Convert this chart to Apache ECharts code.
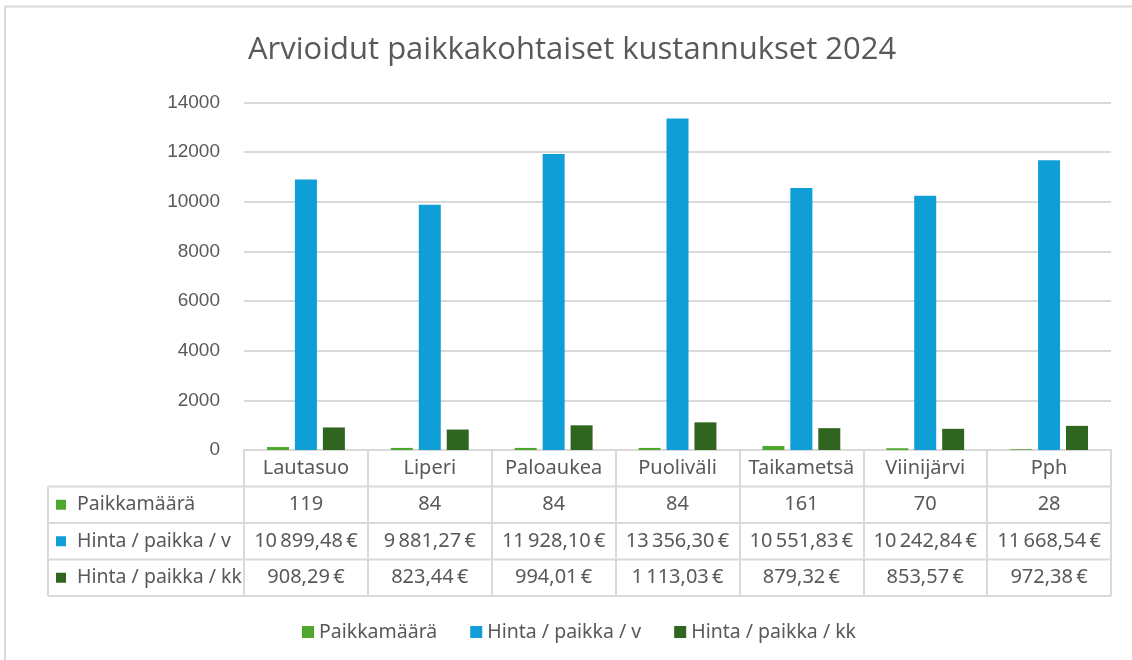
<!DOCTYPE html>
<html>
<head>
<meta charset="utf-8">
<script src="https://cdn.jsdelivr.net/npm/echarts@6/dist/echarts.min.js"></script>
<style>
html,body{margin:0;padding:0;background:#fff;}
#main{width:1132px;height:660px;}
</style>
</head>
<body>
<div id="main"></div>
<script>
// ---- data ----
var categories = ['Lautasuo', 'Liperi', 'Paloaukea', 'Puoliväli', 'Taikametsä', 'Viinijärvi', 'Pph'];
var seriesNames = ['Paikkamäärä', 'Hinta / paikka / v', 'Hinta / paikka / kk'];
var paikkamaara = [119, 84, 84, 84, 161, 70, 28];
var hintaVuosi = [10899.48, 9881.27, 11928.10, 13356.30, 10551.83, 10242.84, 11668.54];
var hintaKk = [908.29, 823.44, 994.01, 1113.03, 879.32, 853.57, 972.38];
var yTicks = [0, 2000, 4000, 6000, 8000, 10000, 12000, 14000];

// ---- styling / layout ----
var colors = ['#4ea72e', '#0f9ed5', '#2f651f'];
var TXT = '#595959';
var LINE = '#d9d9d9';
var W = 1132, H = 660;
var GRID_LEFT = 244, GRID_RIGHT = 21, GRID_TOP = 102.5, AXIS_Y = 450;
var ROW_H = 36.5;
var TABLE_LEFT = 48;
var TABLE_FONT = '"Noto Sans", sans-serif';
var TABLE_SIZE = 20;

function fmtEur(v) {
  var parts = v.toFixed(2).split('.');
  var intPart = parts[0].replace(/\B(?=(\d{3})+(?!\d))/g, '\u202F');
  return intPart + ',' + parts[1] + '\u202F€';
}
var rows = [
  paikkamaara.map(function (v) { return String(v); }),
  hintaVuosi.map(fmtEur),
  hintaKk.map(fmtEur)
];

var chart = echarts.init(document.getElementById('main'), null, {renderer: 'canvas'});

var tableRight = W - GRID_RIGHT;
var graphics = [
  {type: 'line', shape: {x1: 5, y1: 6.5, x2: W, y2: 6.5}, style: {stroke: LINE, lineWidth: 2}, silent: true},
  {type: 'line', shape: {x1: 5, y1: 6.5, x2: 5, y2: H}, style: {stroke: LINE, lineWidth: 2}, silent: true},
  {type: 'line', shape: {x1: TABLE_LEFT, y1: AXIS_Y + ROW_H, x2: TABLE_LEFT, y2: AXIS_Y + 4 * ROW_H}, style: {stroke: LINE, lineWidth: 2}, silent: true}
];
for (var r = 1; r <= 4; r++) {
  var yy = AXIS_Y + r * ROW_H;
  graphics.push({type: 'line', shape: {x1: TABLE_LEFT, y1: yy, x2: tableRight, y2: yy}, style: {stroke: LINE, lineWidth: 2}, silent: true});
}
seriesNames.forEach(function (name, i) {
  var cy = AXIS_Y + (i + 1.5) * ROW_H;
  graphics.push({type: 'rect', shape: {x: 56, y: cy - 5, width: 10, height: 10}, style: {fill: colors[i]}, silent: true});
  graphics.push({type: 'text', x: 77, y: cy, style: {text: name, fill: TXT, font: '19.5px ' + TABLE_FONT, textVerticalAlign: 'middle', verticalAlign: 'middle'}, silent: true});
});

var extraAxes = rows.map(function (labels, i) {
  return {
    type: 'category', gridIndex: 0, position: 'bottom', offset: (i + 1) * ROW_H,
    data: labels,
    axisLine: {show: false}, axisTick: {show: false}, splitLine: {show: false},
    axisLabel: {interval: 0, margin: 18, verticalAlign: 'middle', color: TXT, fontSize: TABLE_SIZE, fontFamily: TABLE_FONT}
  };
});

var option = {
  backgroundColor: '#ffffff',
  animation: false,
  color: colors,
  title: {
    text: 'Arvioidut paikkakohtaiset kustannukset 2024',
    left: 243, top: 30,
    textStyle: {color: TXT, fontSize: 31, fontWeight: 'normal', fontFamily: '"Open Sans", sans-serif'}
  },
  legend: {
    data: seriesNames,
    left: 297, top: 617,
    itemWidth: 12, itemHeight: 12, itemGap: 33,
    icon: 'rect',
    textStyle: {color: TXT, fontSize: 19.5, fontFamily: TABLE_FONT}
  },
  grid: {left: GRID_LEFT, right: GRID_RIGHT, top: GRID_TOP, bottom: H - AXIS_Y, containLabel: false},
  xAxis: [{
    type: 'category', data: categories, gridIndex: 0, position: 'bottom',
    axisLine: {show: true, lineStyle: {color: LINE, width: 2}},
    axisTick: {show: true, length: 4 * ROW_H, lineStyle: {color: LINE, width: 2}},
    axisLabel: {interval: 0, margin: 18, verticalAlign: 'middle', color: TXT, fontSize: TABLE_SIZE, fontFamily: TABLE_FONT},
    splitLine: {show: false}
  }].concat(extraAxes),
  yAxis: {
    type: 'value', min: yTicks[0], max: yTicks[yTicks.length - 1], interval: yTicks[1] - yTicks[0],
    axisLine: {show: false}, axisTick: {show: false},
    axisLabel: {margin: 24, color: TXT, fontSize: 19, fontFamily: '"Liberation Sans", Arial, sans-serif',
      formatter: function (v) { return String(v); }},
    splitLine: {show: true, lineStyle: {color: LINE, width: 2}}
  },
  series: [
    {name: seriesNames[0], type: 'bar', xAxisIndex: 0, data: paikkamaara, barWidth: 22, barGap: '27%'},
    {name: seriesNames[1], type: 'bar', xAxisIndex: 0, data: hintaVuosi, barWidth: 22, barGap: '27%'},
    {name: seriesNames[2], type: 'bar', xAxisIndex: 0, data: hintaKk, barWidth: 22, barGap: '27%'}
  ],
  graphic: graphics
};
chart.setOption(option);
</script>
</body>
</html>
